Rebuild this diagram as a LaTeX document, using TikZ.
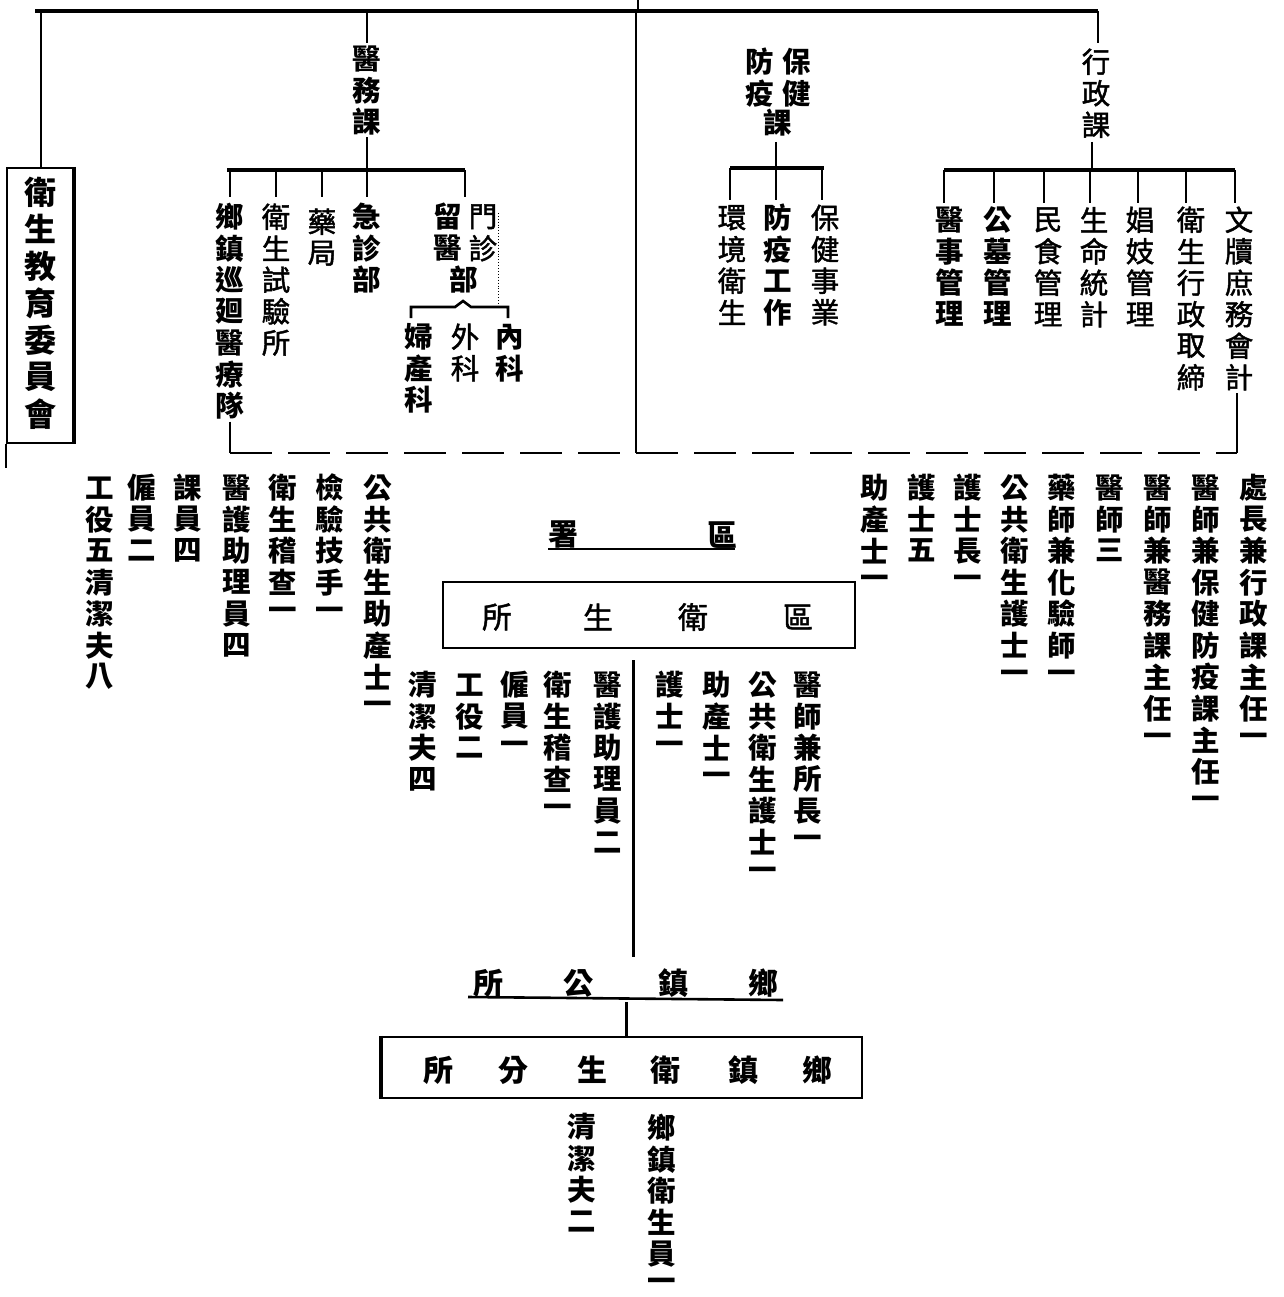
\documentclass[tikz,border=0pt]{standalone}
\usepackage{fontspec}
\newfontfamily\cjk{Noto Sans CJK TC}
\newfontfamily\cjkm{Noto Sans CJK TC}[FakeBold=1.6]
\newlength\vtp
\setlength\vtp{31.5pt}
\makeatletter
\def\vt#1{\vbox{\offinterlineskip\vt@a#1\relax}}
\def\vt@a#1{\ifx\relax#1\else\vbox to\vtp{\vss\hbox to 1em{\hss#1\hss}\vss}\expandafter\vt@a\fi}
\makeatother
\begin{document}
\begin{tikzpicture}[x=1pt,y=-1pt,
  vcol/.style={inner sep=0pt, outer sep=0pt, anchor=north, font=\cjkm\fontsize{28.5}{28.5}\selectfont},
  vbold/.style={vcol, font=\cjk\bfseries\fontsize{28.5}{28.5}\selectfont},
  hch/.style={inner sep=0pt, font=\cjk\bfseries\fontsize{30}{30}\selectfont},
  hreg/.style={inner sep=0pt, font=\cjkm\fontsize{30}{30}\selectfont},
  bus/.style={line width=3.6pt},
  link/.style={line width=2.6pt},
  frame/.style={line width=2.4pt},
]
\useasboundingbox[fill=white] (0,0) rectangle (1283,1297);

% ---------- top bus ----------
\coordinate (tTop) at (638,0);
\coordinate (tMid) at (638,11);
\coordinate (tL) at (35,11);
\coordinate (tR) at (1098,11);
\coordinate (tLd) at (41,11);
\coordinate (tYw) at (367,11);
\coordinate (tC) at (636,11);
\coordinate (cBot) at (636,453);
\draw[link] (tTop) -- (tMid);
\draw[bus] (tL) -- (tR);

% ---------- left committee box ----------
\node[draw, frame, minimum width=66pt, minimum height=275pt, inner sep=0pt] (wjbox) at (40,305.5) {};
\node[vbold, font={\cjk\bfseries\fontsize{32}{32}\selectfont\setlength\vtp{37pt}}] (wj) at (40,173.5) {\vt{衛生教育委員會}};
\draw[line width=2pt] (wjbox.south west) -- ++(0,24);
\draw[line width=3.6pt] (wjbox.north east) -- (wjbox.south east);
\draw[link] (tLd) -- (wjbox.north -| tLd);

% ---------- 醫務課 ----------
\node[vbold] (yw) at (367,43) {\vt{醫務課}};
\draw[link] (tYw) -- (yw.north);
\coordinate (ywb) at (367,170);
\draw[link] (yw.south) -- (ywb);
\coordinate (ywL) at (227,170);
\coordinate (ywR) at (465,170);
\draw[bus] (ywL) -- (ywR);
\node[vbold] (xz) at (230,201) {\vt{鄉鎮巡廻醫療隊}};
\node[vcol] (sy) at (276,201) {\vt{衛生試驗所}};
\node[vcol] (yj) at (322,206) {\vt{藥局}};
\node[vbold] (jz) at (367,201) {\vt{急診部}};
\node[vcol] (mz) at (483,201) {\vt{門診}};
\node[vbold] (ly) at (448,201) {\vt{留醫}};
\node[vbold] (lyb) at (464,264) {\vt{部}};
\foreach \n/\x in {xz/230, sy/276, yj/322, jz/367, ly/465} {
  \draw[link] (\x,170) -- (\x,197);
}
\draw[line width=0.9pt, dotted] (498,213) -- (498,303);
\coordinate (brL) at (411,318);
\coordinate (brR) at (508,318);
\draw[link] (brL) -- (411,307) -- (455,307) -- (463,301) -- (471,307) -- (508,307) -- (brR);
\node[vbold] (nk) at (510,321) {\vt{內科}};
\node[vcol] (wk) at (465,321) {\vt{外科}};
\node[vbold] (fc) at (419,321) {\vt{婦產科}};
\coordinate (xzb) at (230,453);
\draw[link] (xz.south) -- (xzb);

% ---------- centre line ----------
\draw[link] (tC) -- (cBot);

% ---------- 保健防疫課 ----------
\node[vbold] (bj) at (797,46) {\vt{保健}};
\node[vbold] (fy) at (760,46) {\vt{防疫}};
\node[vbold] (bk) at (778,107) {\vt{課}};
\coordinate (bkb) at (776,168);
\draw[link] (776,142) -- (bkb);
\draw[bus] (730,168) -- (824,168);
\foreach \x in {730,776,822} { \draw[link] (\x,168) -- (\x,200); }
\node[vcol] (hj) at (732,202) {\vt{環境衛生}};
\node[vbold] (fg) at (778,202) {\vt{防疫工作}};
\node[vcol] (bs) at (825,202) {\vt{保健事業}};

% ---------- 行政課 ----------
\node[vcol] (xk) at (1096,46) {\vt{行政課}};
\draw[link] (tR) -- (1098,43);
\coordinate (xkb) at (1092,170);
\draw[link] (1092,142) -- (xkb);
\draw[bus] (944,170) -- (1235,170);
\foreach \x in {944,994,1044,1090,1138,1186,1235} { \draw[link] (\x,170) -- (\x,203); }
\node[vbold] (ys) at (950,204) {\vt{醫事管理}};
\node[vbold] (gm) at (998,204) {\vt{公墓管理}};
\node[vcol] (ms) at (1048,204) {\vt{民食管理}};
\node[vcol] (sm) at (1094,204) {\vt{生命統計}};
\node[vcol] (cj) at (1140,204) {\vt{娼妓管理}};
\node[vcol] (wx) at (1191,204) {\vt{衛生行政取締}};
\node[vcol] (wd) at (1239,204) {\vt{文牘庶務會計}};
\coordinate (wdb) at (1237,453);
\draw[link] (1237,393) -- (wdb);

% ---------- dashed staff line ----------
\draw[line width=2.6pt, dash pattern=on 42pt off 16pt] (xzb) -- (wdb);

% ---------- staff lists ----------
\node[vbold] (r1) at (1254,472) {\vt{處長兼行政課主任一}};
\node[vbold] (r2) at (1206,472) {\vt{醫師兼保健防疫課主任一}};
\node[vbold] (r3) at (1158,472) {\vt{醫師兼醫務課主任一}};
\node[vbold] (r4) at (1110,472) {\vt{醫師三}};
\node[vbold] (r5) at (1062,472) {\vt{藥師兼化驗師一}};
\node[vbold] (r6) at (1015,472) {\vt{公共衛生護士一}};
\node[vbold] (r7) at (968,472) {\vt{護士長一}};
\node[vbold] (r8) at (922,472) {\vt{護士五}};
\node[vbold] (r9) at (875,472) {\vt{助產士一}};

\node[vbold] (l1) at (378,472) {\vt{公共衛生助產士一}};
\node[vbold] (l2) at (330,472) {\vt{檢驗技手一}};
\node[vbold] (l3) at (283,472) {\vt{衛生稽查一}};
\node[vbold] (l4) at (237,472) {\vt{醫護助理員四}};
\node[vbold] (l5) at (188,472) {\vt{課員四}};
\node[vbold] (l6) at (142,472) {\vt{僱員二}};
\node[vbold] (l7) at (100,472) {\vt{工役五清潔夫八}};

% ---------- 區署 / 區衛生所 ----------
\node[hch] (q1) at (722,535) {區};
\node[hch] (q2) at (563,535) {署};
\draw[link] (548,549) -- (735,549);
\node[draw, frame, minimum width=412pt, minimum height=66pt, inner sep=0pt] (qbox) at (649,615) {};
\node[hreg] (qa) at (798,617) {區};
\node[hreg] (qb) at (693,617) {衛};
\node[hreg] (qc) at (598,617) {生};
\node[hreg] (qd) at (497,617) {所};

\node[vbold] (c1) at (808,669) {\vt{醫師兼所長一}};
\node[vbold] (c2) at (763,669) {\vt{公共衛生護士一}};
\node[vbold] (c3) at (717,669) {\vt{助產士一}};
\node[vbold] (c4) at (670,669) {\vt{護士一}};
\node[vbold] (c5) at (608,669) {\vt{醫護助理員二}};
\node[vbold] (c6) at (558,669) {\vt{衛生稽查一}};
\node[vbold] (c7) at (515,669) {\vt{僱員一}};
\node[vbold] (c8) at (470,669) {\vt{工役二}};
\node[vbold] (c9) at (423,669) {\vt{清潔夫四}};

\coordinate (qv1) at (633,660);
\coordinate (qv2) at (633,957);
\draw[line width=3pt] (qv1) -- (qv2);

% ---------- 鄉鎮公所 ----------
\node[hch] (g1) at (763,983) {鄉};
\node[hch] (g2) at (673,983) {鎮};
\node[hch] (g3) at (578,983) {公};
\node[hch] (g4) at (488,983) {所};
\draw[link] (468,997) -- (783,1000);
\coordinate (gv1) at (626,1002);
\coordinate (gv2) at (626,1037);
\draw[line width=3pt] (gv1) -- (gv2);

% ---------- 鄉鎮衛生分所 ----------
\node[draw, frame, minimum width=480pt, minimum height=61pt, inner sep=0pt] (fbox) at (622,1067.5) {};
\draw[line width=3.6pt] (fbox.north west) -- (fbox.south west);
\node[hch] (f1) at (817,1070) {鄉};
\node[hch] (f2) at (743,1070) {鎮};
\node[hch] (f3) at (665,1070) {衛};
\node[hch] (f4) at (592,1070) {生};
\node[hch] (f5) at (513,1070) {分};
\node[hch] (f6) at (438,1070) {所};

\node[vbold] (b1) at (662,1112) {\vt{鄉鎮衛生員一}};
\node[vbold] (b2) at (582,1111) {\vt{清潔夫二}};
\end{tikzpicture}
\end{document}
